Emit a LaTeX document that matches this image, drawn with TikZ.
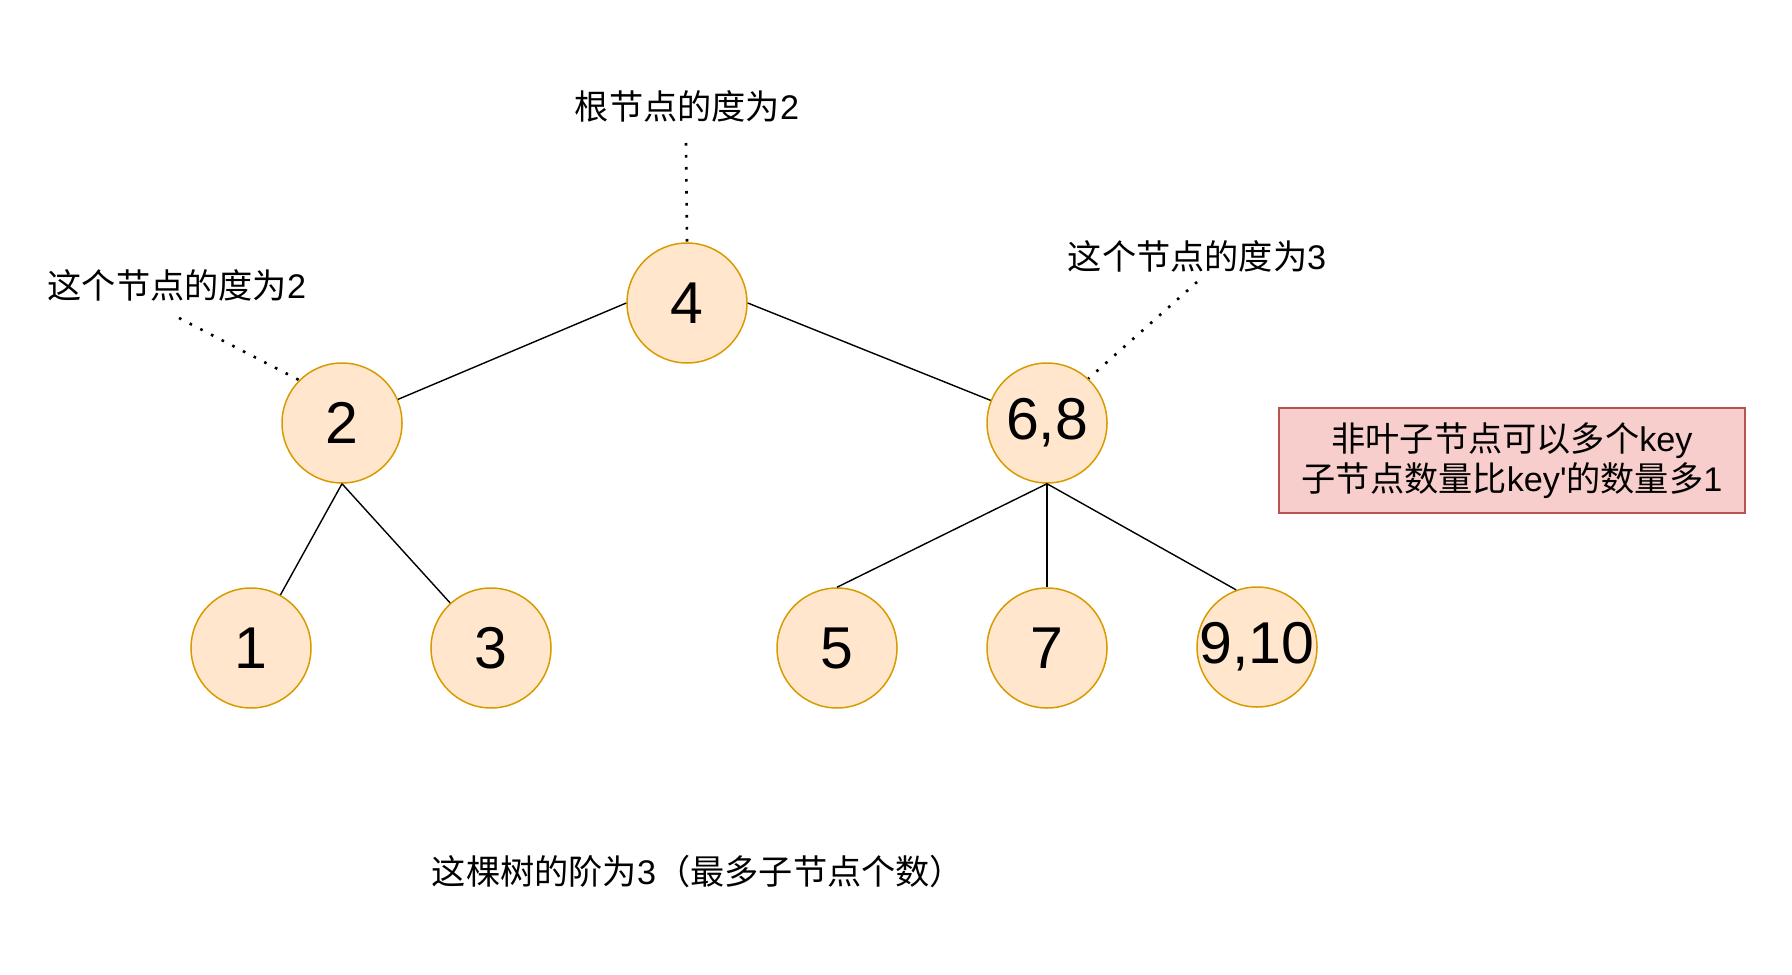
\documentclass[tikz,border=0pt]{standalone}
\usepackage{fontspec}
\setmainfont{Liberation Sans}
\newfontfamily\cjk{Noto Sans CJK SC}
\definecolor{orangeF}{HTML}{FFE6CC}
\definecolor{orangeB}{HTML}{D79B00}
\definecolor{pinkF}{HTML}{F8CECC}
\definecolor{pinkB}{HTML}{B85450}
\begin{document}
\begin{tikzpicture}[x=0.5pt,y=-0.5pt,
  keynode/.style={circle, draw=orangeB, fill=orangeF, line width=0.75pt, minimum size=60pt, inner sep=0pt, font=\fontsize{29.5}{30}\selectfont},
  treeedge/.style={line width=0.7pt},
  dotline/.style={line width=1.3pt, dash pattern=on 1.3pt off 4.7pt},
  note/.style={font=\fontsize{17.1}{20}\selectfont, inner sep=0pt},
  infobox/.style={draw=pinkB, fill=pinkF, line width=0.6pt, minimum width=233pt, minimum height=52.5pt, align=center, inner sep=0pt, font=\fontsize{17.1}{20}\selectfont}]
\useasboundingbox (0,0) rectangle (1792,974);

\node[keynode] (n4) at (687,303) {4};
\node[keynode] (n2) at (342,423) {2};
\node[keynode] (n68) at (1047,423) {6,8};
\node[keynode] (n1) at (251,648) {1};
\node[keynode] (n3) at (491,648) {3};
\node[keynode] (n5) at (837,648) {5};
\node[keynode] (n7) at (1047,648) {7};
\node[keynode] (n910) at (1257,647) {\makebox[0pt][c]{9,10}};

\draw[treeedge] (n4.west) -- (n2);
\draw[treeedge] (n4.east) -- (n68);
\draw[treeedge] (n2.south) -- (n1);
\draw[treeedge] (n2.south) -- (n3);
\draw[treeedge] (n68.south) -- (n5.north);
\draw[treeedge] (n68.south) -- (n7.north);
\draw[treeedge] (n68.south) -- (n910.110);

\node[note] (lroot) at (687,106) {{\cjk 根节点的度为}2};
\node[note] (l2) at (177,285) {{\cjk 这个节点的度为}2};
\node[note] (l68) at (1197,256) {{\cjk 这个节点的度为}3};
\node[note] (lorder) at (698,871) {{\cjk 这棵树的阶为}3{\cjk （最多子节点个数）}};

\coordinate (droot) at (686,143);
\coordinate (d2) at (179,318);
\coordinate (d68) at (1197,282);
\draw[dotline] (droot) -- (n4.north);
\draw[dotline] (d2) -- (n2.135);
\draw[dotline] (d68) -- (n68.47);

\node[infobox] (info) at (1512,460.5) {{\cjk 非叶子节点可以多个}key\\{\cjk 子节点数量比}key\textquotesingle{\cjk 的数量多}1};
\end{tikzpicture}
\end{document}
